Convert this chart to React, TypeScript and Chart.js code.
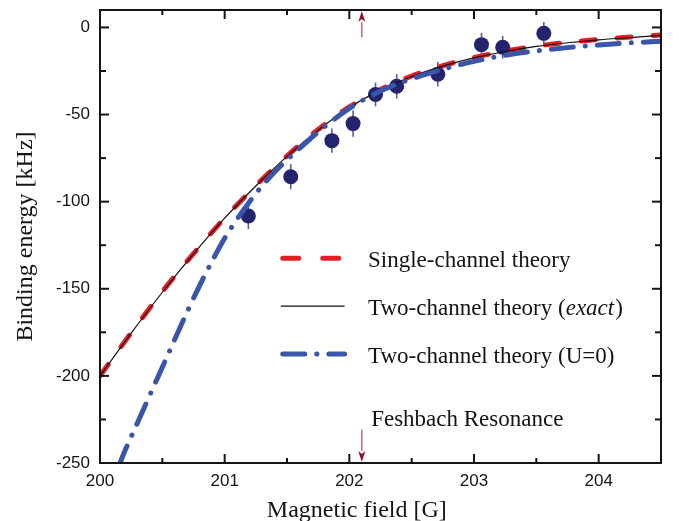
import React, { useEffect, useRef } from "react";
import { Chart, registerables } from "chart.js";

Chart.register(...registerables);

// ---------------- Data ----------------
const theoryField = [
  200.0, 200.25, 200.5, 200.75, 201.0, 201.25, 201.5, 201.75, 202.0, 202.25,
  202.5, 202.75, 203.0, 203.25, 203.5, 203.75, 204.0, 204.25, 204.5,
];
const singleChannelEnergy = [
  -200, -175.3, -151.6, -129.8, -109.4, -90.8, -73.8, -58.6, -45.6, -35.6,
  -27.9, -22.0, -17.3, -13.6, -10.7, -8.6, -6.9, -5.5, -4.3,
];
const twoChannelExactEnergy = [
  -200, -175.5, -152, -130, -109.5, -91, -74, -59, -46, -36,
  -28.2, -22.2, -17.5, -13.8, -10.9, -8.8, -7.1, -5.8, -4.6,
];
const u0Field = [
  200.15, 200.2, 200.3, 200.4, 200.5, 200.6, 200.7, 200.8, 200.9, 201.0,
  201.1, 201.2, 201.3, 201.4, 201.5, 201.6, 201.75, 202.0, 202.25, 202.5,
  202.75, 203.0, 203.25, 203.5, 203.75, 204.0, 204.25, 204.5,
];
const twoChannelU0Energy = [
  -252, -243, -227, -211, -195, -179, -163, -148, -134, -121,
  -110, -100, -91, -83, -76, -69.5, -60, -46.5, -36.5, -29.5,
  -24, -19.5, -16, -13.5, -11.6, -10.1, -8.9, -7.9,
];
const measuredField = [201.19, 201.53, 201.86, 202.03, 202.21, 202.38, 202.71, 203.06, 203.23, 203.56];
const measuredEnergy = [-108.2, -85.7, -65.0, -55.2, -38.5, -33.8, -26.9, -9.9, -11.4, -3.4];
const measuredError = [7.5, 7.2, 7, 7.5, 6.8, 7, 7, 6.8, 6.5, 6.5];

const xMajorTicks = [200, 201, 202, 203, 204];
const xMinorTicks = [200.5, 201.5, 202.5, 203.5];
const yMajorTicks = [0, -50, -100, -150, -200, -250];
const yMinorTicks = [-25, -75, -125, -175, -225];

const resonanceField = 202.1;
const seriesLabels = ["Single-channel theory", "Two-channel theory (exact)", "Two-channel theory (U=0)"];
const annotationText = "Feshbach Resonance";
const xTitle = "Magnetic field [G]";
const yTitle = "Binding energy [kHz]";

// ---------------- Styles ----------------
const RED = "#e41f27";
const BLUE = "#3a55a9";
const NAVY = "#23236e";
const ERR = "#5c5c9e";
const INK = "#141414";
const SERIF = '"Liberation Serif", "Times New Roman", serif';
const SANS = '"Liberation Sans", Arial, sans-serif';
const RED_DASH = [14, 22];
const BLUE_DASH = [22, 12, 0.1, 12];

const decorPlugin = {
  id: "decor",
  beforeDatasetsDraw(chart: any) {
    const { ctx, scales } = chart;
    const xs = scales.x;
    const ys = scales.y;
    ctx.save();
    ctx.strokeStyle = ERR;
    ctx.lineWidth = 1.6;
    measuredField.forEach((f, i) => {
      const px = xs.getPixelForValue(f);
      ctx.beginPath();
      ctx.moveTo(px, ys.getPixelForValue(measuredEnergy[i] + measuredError[i]));
      ctx.lineTo(px, ys.getPixelForValue(measuredEnergy[i] - measuredError[i]));
      ctx.stroke();
    });
    ctx.restore();
  },
  afterDraw(chart: any) {
    const { ctx, chartArea: a, scales } = chart;
    const xs = scales.x;
    const ys = scales.y;
    ctx.save();

    // frame
    ctx.strokeStyle = INK;
    ctx.lineWidth = 2;
    ctx.setLineDash([]);
    ctx.strokeRect(a.left, a.top, a.right - a.left, a.bottom - a.top);

    const seg = (x1: number, y1: number, x2: number, y2: number) => {
      ctx.beginPath();
      ctx.moveTo(x1, y1);
      ctx.lineTo(x2, y2);
      ctx.stroke();
    };
    const xt = (vals: number[], len: number) =>
      vals.forEach((v) => {
        const px = xs.getPixelForValue(v);
        seg(px, a.bottom, px, a.bottom - len);
        seg(px, a.top, px, a.top + len);
      });
    const yt = (vals: number[], len: number) =>
      vals.forEach((v) => {
        const py = ys.getPixelForValue(v);
        seg(a.left, py, a.left + len, py);
        seg(a.right, py, a.right - len, py);
      });
    xt(xMajorTicks, 9);
    xt(xMinorTicks, 5);
    yt(yMajorTicks, 9);
    yt(yMinorTicks, 6);

    // resonance arrows
    const ax = xs.getPixelForValue(resonanceField);
    const arrow = (yFrom: number, yTip: number) => {
      const dir = Math.sign(yTip - yFrom);
      const head = 11;
      ctx.strokeStyle = "rgba(175,85,95,0.85)";
      ctx.lineWidth = 1.5;
      seg(ax, yFrom, ax, yTip - dir * head);
      ctx.fillStyle = "#8a1424";
      ctx.beginPath();
      ctx.moveTo(ax, yTip);
      ctx.lineTo(ax - 3.5, yTip - dir * head);
      ctx.lineTo(ax, yTip - dir * (head - 3));
      ctx.lineTo(ax + 3.5, yTip - dir * head);
      ctx.closePath();
      ctx.fill();
    };
    arrow(ys.getPixelForValue(-5.7), a.top + 1);
    arrow(ys.getPixelForValue(-230.8), a.bottom - 1);

    // legend
    const lx1 = xs.getPixelForValue(201.45);
    const lx2 = xs.getPixelForValue(201.93);
    const tx = xs.getPixelForValue(202.15);
    const rows = [-132.5, -160, -187.5].map((v) => ys.getPixelForValue(v));
    ctx.lineCap = "round";
    ctx.strokeStyle = RED;
    ctx.lineWidth = 5;
    ctx.setLineDash([16, 24]);
    seg(lx1 + 2, rows[0], lx2, rows[0]);
    ctx.lineCap = "butt";
    ctx.strokeStyle = "#111";
    ctx.lineWidth = 1.2;
    ctx.setLineDash([]);
    seg(lx1, rows[1], lx2 + 4, rows[1]);
    ctx.lineCap = "round";
    ctx.strokeStyle = BLUE;
    ctx.lineWidth = 5;
    ctx.setLineDash(BLUE_DASH);
    seg(lx1 + 2, rows[2], lx2 + 4, rows[2]);
    ctx.setLineDash([]);

    ctx.fillStyle = INK;
    ctx.textBaseline = "alphabetic";
    ctx.textAlign = "left";
    const reg = `23px ${SERIF}`;
    const ita = `italic 23px ${SERIF}`;
    ctx.font = reg;
    ctx.fillText(seriesLabels[0], tx, rows[0] + 8.5);
    // "Two-channel theory (exact)" with italic "exact"
    const p1 = "Two-channel theory (";
    const p2 = "exact";
    const p3 = ")";
    let cx = tx;
    ctx.font = reg;
    ctx.fillText(p1, cx, rows[1] + 8.5);
    cx += ctx.measureText(p1).width;
    ctx.font = ita;
    ctx.fillText(p2, cx, rows[1] + 8.5);
    cx += ctx.measureText(p2).width + 1;
    ctx.font = reg;
    ctx.fillText(p3, cx, rows[1] + 8.5);
    ctx.fillText(seriesLabels[2], tx, rows[2] + 8.5);

    // annotation
    ctx.fillText(annotationText, xs.getPixelForValue(202.175), ys.getPixelForValue(-228.5));

    // x axis title
    ctx.font = `24px ${SERIF}`;
    ctx.textAlign = "center";
    ctx.fillText(xTitle, xs.getPixelForValue(202.06), a.bottom + 54);

    ctx.restore();
  },
};

export default function App() {
  const canvasRef = useRef<HTMLCanvasElement | null>(null);

  useEffect(() => {
    const canvas = canvasRef.current;
    if (!canvas) return;
    const chart = new Chart(canvas, {
      type: "scatter",
      data: {
        datasets: [
          {
            label: seriesLabels[0],
            data: theoryField.map((x, i) => ({ x, y: singleChannelEnergy[i] })),
            showLine: true,
            borderColor: RED,
            borderWidth: 5,
            borderDash: RED_DASH,
            borderCapStyle: "round",
            pointRadius: 0,
            cubicInterpolationMode: "monotone",
            clip: 0,
            order: 5,
          },
          {
            label: "Experiment",
            data: measuredField.map((x, i) => ({ x, y: measuredEnergy[i] })),
            showLine: false,
            pointRadius: 7.5,
            pointBackgroundColor: NAVY,
            pointBorderWidth: 0,
            borderColor: NAVY,
            order: 4,
          },
          {
            label: seriesLabels[1],
            data: theoryField.map((x, i) => ({ x, y: twoChannelExactEnergy[i] })),
            showLine: true,
            borderColor: "#111",
            borderWidth: 1.2,
            pointRadius: 0,
            cubicInterpolationMode: "monotone",
            clip: 0,
            order: 3,
          },
          {
            label: seriesLabels[2],
            data: u0Field.map((x, i) => ({ x, y: twoChannelU0Energy[i] })),
            showLine: true,
            borderColor: BLUE,
            borderWidth: 5,
            borderDash: BLUE_DASH,
            borderCapStyle: "round",
            pointRadius: 0,
            cubicInterpolationMode: "monotone",
            clip: 0,
            order: 2,
          },
        ],
      } as any,
      options: {
        animation: false,
        responsive: false,
        events: [],
        layout: { padding: { left: 0, top: 10, right: 18, bottom: 0 } },
        plugins: {
          legend: { display: false },
          tooltip: { enabled: false },
        },
        scales: {
          x: {
            type: "linear",
            min: 200,
            max: 204.5,
            grid: { display: false, drawTicks: false },
            border: { display: false },
            ticks: {
              stepSize: 1,
              includeBounds: false,
              padding: 8,
              color: INK,
              font: { family: SANS, size: 17 },
            },
            afterFit(s: any) {
              s.height = 58;
              s.paddingLeft = 0;
              s.paddingRight = 0;
            },
          },
          y: {
            type: "linear",
            min: -250,
            max: 10,
            grid: { display: false, drawTicks: false },
            border: { display: false },
            ticks: {
              stepSize: 50,
              includeBounds: false,
              padding: 10,
              color: INK,
              font: { family: SANS, size: 17 },
            },
            title: {
              display: true,
              text: yTitle,
              color: INK,
              font: { family: SERIF, size: 24, lineHeight: 1.2 },
              padding: { top: 11.6, bottom: 0 },
            },
            afterFit(s: any) {
              s.width = 100;
              s.paddingTop = 0;
              s.paddingBottom = 0;
            },
          },
        },
      } as any,
      plugins: [decorPlugin],
    });
    return () => chart.destroy();
  }, []);

  return (
    <div style={{ position: "fixed", left: 0, top: 0, width: 679, height: 521, background: "#fff" }}>
      <canvas ref={canvasRef} width={679} height={521} style={{ display: "block" }} />
    </div>
  );
}
